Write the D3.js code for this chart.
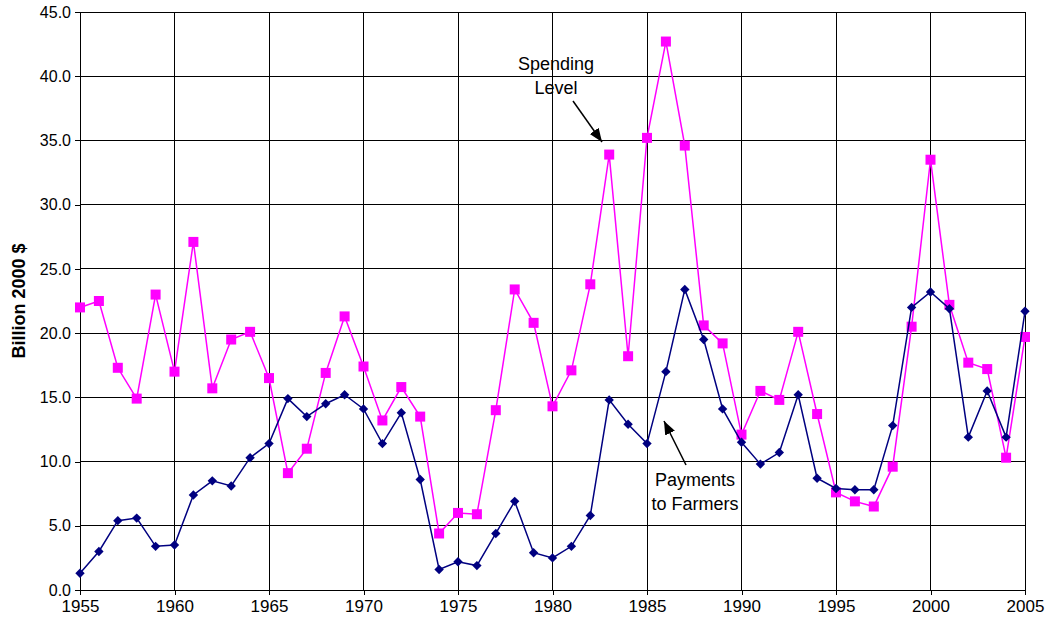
<!DOCTYPE html>
<head>
  <meta charset="utf-8">
  <script src="https://d3js.org/d3.v7.min.js"></script>
  <style>
    body { margin: 0; background: #fff; }
    text { font-family: "Liberation Sans", Arial, sans-serif; }
  </style>
</head>
<body>
<svg width="1053" height="633"></svg>
<script>

  let years = d3.range(1955, 2006);

  let spending = [22.0, 22.5, 17.3, 14.9, 23.0, 17.0, 27.1, 15.7, 19.5, 20.1,
    16.5, 9.1, 11.0, 16.9, 21.3, 17.4, 13.2, 15.8, 13.5, 4.4,
    6.0, 5.9, 14.0, 23.4, 20.8, 14.3, 17.1, 23.8, 33.9, 18.2,
    35.2, 42.7, 34.6, 20.6, 19.2, 12.1, 15.5, 14.8, 20.1, 13.7,
    7.6, 6.9, 6.5, 9.6, 20.5, 33.5, 22.2, 17.7, 17.2, 10.3,
    19.7];

  let payments = [1.3, 3.0, 5.4, 5.6, 3.4, 3.5, 7.4, 8.5, 8.1, 10.3,
    11.4, 14.9, 13.5, 14.5, 15.2, 14.1, 11.4, 13.8, 8.6, 1.6,
    2.2, 1.9, 4.4, 6.9, 2.9, 2.5, 3.4, 5.8, 14.8, 12.9,
    11.4, 17.0, 23.4, 19.5, 14.1, 11.5, 9.8, 10.7, 15.2, 8.7,
    7.9, 7.8, 7.8, 12.8, 22.0, 23.2, 21.9, 11.9, 15.5, 11.9,
    21.7];

  let xTicks = [1955, 1960, 1965, 1970, 1975, 1980, 1985, 1990, 1995, 2000, 2005];
  let yTicks = [0, 5, 10, 15, 20, 25, 30, 35, 40, 45];

  let svg = d3.select("svg"),
    plotLeft = 80, plotRight = 1025, plotTop = 12, plotBottom = 590;

  let x = d3.scaleLinear().domain([1955, 2005]).range([plotLeft, plotRight]);
  let y = d3.scaleLinear().domain([0, 45]).range([plotBottom, plotTop]);

  // grid
  let grid = svg.append("g").attr("stroke", "#000").attr("stroke-width", 1).attr("shape-rendering", "crispEdges");
  yTicks.forEach(function (t) {
    grid.append("line").attr("x1", plotLeft).attr("x2", plotRight).attr("y1", y(t)).attr("y2", y(t));
  });
  xTicks.forEach(function (t) {
    grid.append("line").attr("x1", x(t)).attr("x2", x(t)).attr("y1", plotTop).attr("y2", plotBottom);
  });

  // axes
  let yAxis = svg.append("g")
    .attr("transform", "translate(" + plotLeft + ",0)")
    .call(d3.axisLeft(y).tickValues(yTicks).tickFormat(d3.format(".1f")).tickSize(5).tickPadding(4));
  let xAxis = svg.append("g")
    .attr("transform", "translate(0," + plotBottom + ")")
    .call(d3.axisBottom(x).tickValues(xTicks).tickFormat(d3.format("d")).tickSize(5).tickPadding(5));
  [yAxis, xAxis].forEach(function (a) {
    a.select(".domain").attr("stroke", "#000").attr("shape-rendering", "crispEdges");
    a.selectAll(".tick line").attr("stroke", "#000").attr("shape-rendering", "crispEdges");
  });
  yAxis.selectAll("text").attr("font-size", 16).attr("fill", "#000");
  xAxis.selectAll("text").attr("font-size", 17).attr("fill", "#000");

  svg.append("text")
    .attr("transform", "translate(25," + ((plotTop + plotBottom) / 2) + ") rotate(-90)")
    .attr("text-anchor", "middle")
    .attr("font-size", 18)
    .attr("font-weight", "bold")
    .text("Billion 2000 $");

  let line = d3.line()
    .x(function (d, i) { return x(years[i]); })
    .y(function (d) { return y(d); });

  // spending level
  svg.append("path").datum(spending)
    .attr("d", line).attr("fill", "none").attr("stroke", "#ff00ff").attr("stroke-width", 1.5);
  svg.append("g").selectAll("rect").data(spending).join("rect")
    .attr("x", function (d, i) { return x(years[i]) - 5; })
    .attr("y", function (d) { return y(d) - 5; })
    .attr("width", 10).attr("height", 10)
    .attr("fill", "#ff00ff");

  // payments to farmers
  svg.append("path").datum(payments)
    .attr("d", line).attr("fill", "none").attr("stroke", "#000080").attr("stroke-width", 1.5);
  svg.append("g").selectAll("path").data(payments).join("path")
    .attr("d", d3.symbol().type(d3.symbolSquare).size(44))
    .attr("transform", function (d, i) { return "translate(" + x(years[i]) + "," + y(d) + ") rotate(45)"; })
    .attr("fill", "#000080");

  // annotations
  svg.append("defs").append("marker")
    .attr("id", "arrow").attr("viewBox", "0 0 10 10").attr("refX", 10).attr("refY", 5)
    .attr("markerWidth", 9).attr("markerHeight", 9).attr("orient", "auto")
    .append("path").attr("d", "M0,1 L10,5 L0,9 z").attr("fill", "#000");

  function note(lines, tx, ty, x1, y1, x2, y2) {
    let t = svg.append("text").attr("text-anchor", "middle").attr("font-size", 18).attr("fill", "#000");
    lines.forEach(function (s, i) {
      t.append("tspan").attr("x", tx).attr("y", ty + i * 24).text(s);
    });
    svg.append("line").attr("x1", x1).attr("y1", y1).attr("x2", x2).attr("y2", y2)
      .attr("stroke", "#000").attr("stroke-width", 1.5).attr("marker-end", "url(#arrow)");
  }
  note(["Spending", "Level"], 556, 70, 573, 101, 602, 142);
  note(["Payments", "to Farmers"], 695, 486, 686, 465, 664, 421);

</script>
</body>
